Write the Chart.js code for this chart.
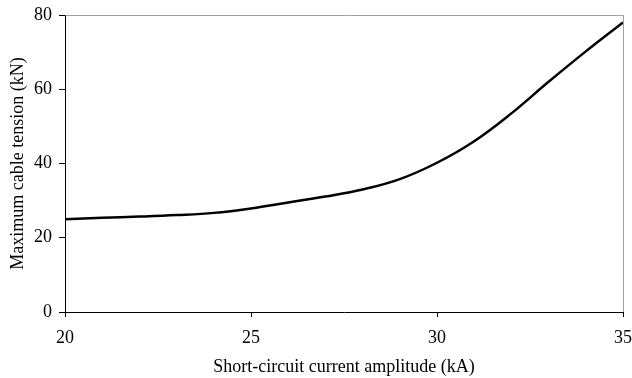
<!DOCTYPE html>
<html>
<head>
<meta charset="utf-8">
<script src="https://cdn.jsdelivr.net/npm/chart.js@4"></script>
<style>
    html, body { margin: 0; padding: 0; background: #fff; }
    #wrap { width: 632px; height: 378px; }
</style>
</head>
<body>
<div id="wrap"><canvas id="cvTension" width="632" height="378"></canvas></div>
<script>
// short-circuit current amplitude (kA)
var currents = [20, 21, 22, 23, 24, 25, 26, 27, 28, 29, 30, 31, 32, 33, 34, 35]
// maximum cable tension (kN)
var tensions = [25.0, 25.4, 25.7, 26.1, 26.7, 27.9, 29.5, 31.1, 33.0, 35.8, 40.2, 46.0, 53.5, 62.0, 70.2, 78.0]
var xTitle = 'Short-circuit current amplitude (kA)'
var yTitle = 'Maximum cable tension (kN)'

var serif = 'Liberation Serif, Times New Roman, serif'

// gray top / right frame lines
var framePlugin = {
    id: 'frame',
    beforeDatasetsDraw: (chart) => {
        var a = chart.chartArea
        var ctx = chart.ctx
        ctx.save()
        ctx.strokeStyle = '#a0a0a0'
        ctx.lineWidth = 1
        ctx.beginPath()
        ctx.moveTo(Math.round(a.left) + 0.5, Math.round(a.top) + 0.5)
        ctx.lineTo(Math.round(a.right) + 0.5, Math.round(a.top) + 0.5)
        ctx.lineTo(Math.round(a.right) + 0.5, Math.round(a.bottom))
        ctx.stroke()
        ctx.restore()
    }
}

var fnInitializeLineChart = () => {
    var ctx = document.getElementById('cvTension').getContext('2d')
    new Chart(ctx, {
        type: 'line',
        data: {
            datasets: [{
                data: currents.map((c, i) => ({ x: c, y: tensions[i] })),
                borderColor: '#000',
                borderWidth: 2.5,
                pointRadius: 0,
                fill: false,
                tension: 0.4
            }]
        },
        options: {
            responsive: false,
            animation: false,
            layout: { padding: { top: 15, right: 9, left: 0, bottom: 0 } },
            plugins: {
                legend: { display: false },
                tooltip: { enabled: false }
            },
            scales: {
                x: {
                    type: 'linear',
                    min: 20,
                    max: 35,
                    ticks: {
                        stepSize: 5,
                        color: '#000',
                        padding: 10,
                        maxRotation: 0,
                        font: { family: serif, size: 18 }
                    },
                    grid: { drawOnChartArea: false, drawTicks: true, tickLength: 5, color: '#000' },
                    border: { color: '#000', width: 1 },
                    title: {
                        display: true,
                        text: xTitle,
                        color: '#000',
                        padding: { top: 0, bottom: 0 },
                        font: { family: serif, size: 18 }
                    },
                    afterFit: (scale) => {
                        scale.height = 66
                        scale.paddingLeft = 0
                        scale.paddingRight = 0
                    }
                },
                y: {
                    min: 0,
                    max: 80,
                    ticks: {
                        stepSize: 20,
                        color: '#000',
                        padding: 7,
                        font: { family: serif, size: 18 }
                    },
                    grid: { drawOnChartArea: false, drawTicks: true, tickLength: 6, color: '#000' },
                    border: { color: '#000', width: 1 },
                    title: {
                        display: true,
                        text: yTitle,
                        color: '#000',
                        padding: { top: 7, bottom: 0 },
                        font: { family: serif, size: 18 }
                    },
                    afterFit: (scale) => {
                        scale.width = 65
                        scale.paddingTop = 0
                        scale.paddingBottom = 0
                    }
                }
            }
        },
        plugins: [framePlugin]
    })
}

fnInitializeLineChart()
</script>
</body>
</html>
